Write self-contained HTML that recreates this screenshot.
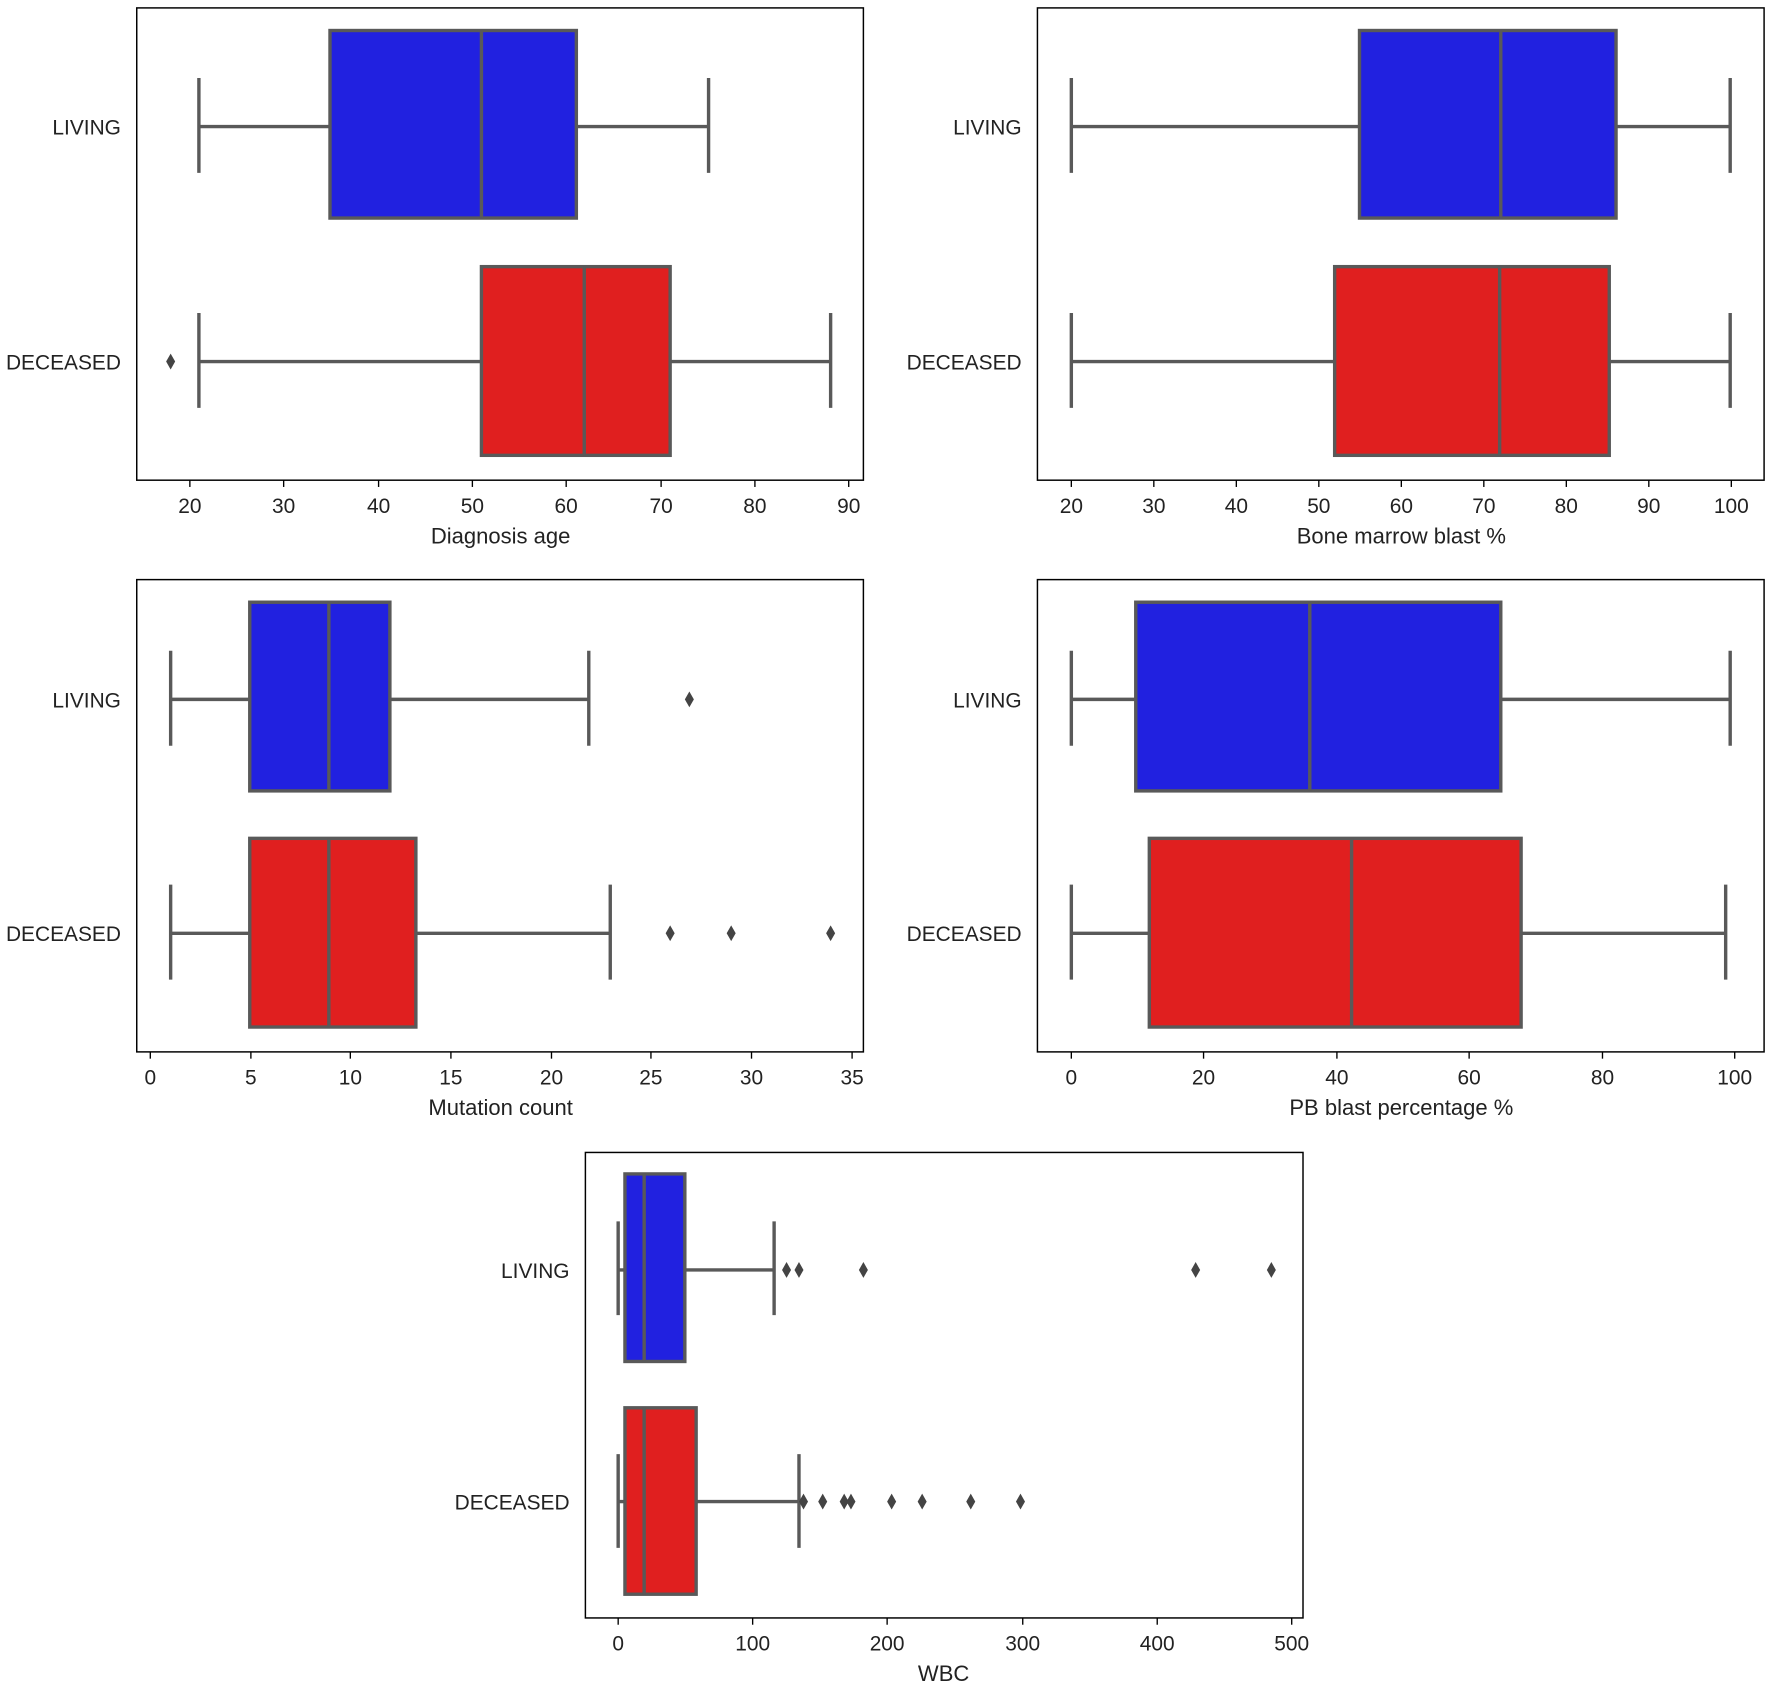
<!DOCTYPE html>
<html><head><meta charset="utf-8"><style>html,body{margin:0;padding:0;background:#fff}svg{display:block}</style></head>
<body>
<svg width="1772" height="1688" viewBox="0 0 1568 1494" preserveAspectRatio="none" xmlns="http://www.w3.org/2000/svg" font-family="'Liberation Sans','DejaVu Sans',sans-serif" font-size="18.5" fill="#222">
<defs>
<style>.ln{stroke:#595959;stroke-width:3;fill:none}.bx{stroke:#595959;stroke-width:3}.ax{fill:none;stroke:#000;stroke-width:1.3}.tk{stroke:#000;stroke-width:1.2}</style>
</defs>

<!-- Panel 1 -->
<rect class="ax" x="121" y="7" width="643" height="418"/>
<text x="107" y="119" text-anchor="end">LIVING</text>
<text x="107" y="327" text-anchor="end">DECEASED</text>
<line class="ln" x1="176" y1="112" x2="292" y2="112"/><line class="ln" x1="510" y1="112" x2="627" y2="112"/>
<line class="ln" x1="176" y1="69" x2="176" y2="153"/><line class="ln" x1="627" y1="69" x2="627" y2="153"/>
<rect class="bx" x="292" y="27" width="218" height="166" fill="#2121e0"/><line class="ln" x1="426" y1="27" x2="426" y2="193"/>
<line class="ln" x1="176" y1="320" x2="426" y2="320"/><line class="ln" x1="593" y1="320" x2="735" y2="320"/>
<line class="ln" x1="176" y1="277" x2="176" y2="361"/><line class="ln" x1="735" y1="277" x2="735" y2="361"/>
<rect class="bx" x="426" y="236" width="167" height="167" fill="#e01f1f"/><line class="ln" x1="517" y1="236" x2="517" y2="403"/>
<path d="M151 313 L155 320 L151 327 L147 320Z" fill="#444"/>
<g class="tk"><line x1="168" y1="425" x2="168" y2="431"/><line x1="251" y1="425" x2="251" y2="431"/><line x1="335" y1="425" x2="335" y2="431"/><line x1="418" y1="425" x2="418" y2="431"/><line x1="501" y1="425" x2="501" y2="431"/><line x1="585" y1="425" x2="585" y2="431"/><line x1="668" y1="425" x2="668" y2="431"/><line x1="751" y1="425" x2="751" y2="431"/></g>
<g text-anchor="middle"><text x="168" y="454">20</text><text x="251" y="454">30</text><text x="335" y="454">40</text><text x="418" y="454">50</text><text x="501" y="454">60</text><text x="585" y="454">70</text><text x="668" y="454">80</text><text x="751" y="454">90</text>
<text x="443" y="481" font-size="19.5">Diagnosis age</text></g>

<!-- Panel 2 -->
<rect class="ax" x="918" y="7" width="643" height="418"/>
<text x="904" y="119" text-anchor="end">LIVING</text>
<text x="904" y="327" text-anchor="end">DECEASED</text>
<line class="ln" x1="948" y1="112" x2="1203" y2="112"/><line class="ln" x1="1430" y1="112" x2="1531" y2="112"/>
<line class="ln" x1="948" y1="69" x2="948" y2="153"/><line class="ln" x1="1531" y1="69" x2="1531" y2="153"/>
<rect class="bx" x="1203" y="27" width="227" height="166" fill="#2121e0"/><line class="ln" x1="1328" y1="27" x2="1328" y2="193"/>
<line class="ln" x1="948" y1="320" x2="1181" y2="320"/><line class="ln" x1="1424" y1="320" x2="1531" y2="320"/>
<line class="ln" x1="948" y1="277" x2="948" y2="361"/><line class="ln" x1="1531" y1="277" x2="1531" y2="361"/>
<rect class="bx" x="1181" y="236" width="243" height="167" fill="#e01f1f"/><line class="ln" x1="1327" y1="236" x2="1327" y2="403"/>
<g class="tk"><line x1="948" y1="425" x2="948" y2="431"/><line x1="1021" y1="425" x2="1021" y2="431"/><line x1="1094" y1="425" x2="1094" y2="431"/><line x1="1167" y1="425" x2="1167" y2="431"/><line x1="1240" y1="425" x2="1240" y2="431"/><line x1="1313" y1="425" x2="1313" y2="431"/><line x1="1386" y1="425" x2="1386" y2="431"/><line x1="1459" y1="425" x2="1459" y2="431"/><line x1="1532" y1="425" x2="1532" y2="431"/></g>
<g text-anchor="middle"><text x="948" y="454">20</text><text x="1021" y="454">30</text><text x="1094" y="454">40</text><text x="1167" y="454">50</text><text x="1240" y="454">60</text><text x="1313" y="454">70</text><text x="1386" y="454">80</text><text x="1459" y="454">90</text><text x="1532" y="454">100</text>
<text x="1240" y="481" font-size="19.5">Bone marrow blast %</text></g>

<!-- Panel 3 -->
<rect class="ax" x="121" y="513" width="643" height="418"/>
<text x="107" y="626" text-anchor="end">LIVING</text>
<text x="107" y="833" text-anchor="end">DECEASED</text>
<line class="ln" x1="151" y1="619" x2="221" y2="619"/><line class="ln" x1="345" y1="619" x2="521" y2="619"/>
<line class="ln" x1="151" y1="576" x2="151" y2="660"/><line class="ln" x1="521" y1="576" x2="521" y2="660"/>
<rect class="bx" x="221" y="533" width="124" height="167" fill="#2121e0"/><line class="ln" x1="291" y1="533" x2="291" y2="700"/>
<path d="M610 612 L614 619 L610 626 L606 619Z" fill="#444"/>
<line class="ln" x1="151" y1="826" x2="221" y2="826"/><line class="ln" x1="368" y1="826" x2="540" y2="826"/>
<line class="ln" x1="151" y1="783" x2="151" y2="867"/><line class="ln" x1="540" y1="783" x2="540" y2="867"/>
<rect class="bx" x="221" y="742" width="147" height="167" fill="#e01f1f"/><line class="ln" x1="291" y1="742" x2="291" y2="909"/>
<path d="M593 819 L597 826 L593 833 L589 826Z M647 819 L651 826 L647 833 L643 826Z M735 819 L739 826 L735 833 L731 826Z" fill="#444"/>
<g class="tk"><line x1="133" y1="931" x2="133" y2="937"/><line x1="222" y1="931" x2="222" y2="937"/><line x1="310" y1="931" x2="310" y2="937"/><line x1="399" y1="931" x2="399" y2="937"/><line x1="488" y1="931" x2="488" y2="937"/><line x1="576" y1="931" x2="576" y2="937"/><line x1="665" y1="931" x2="665" y2="937"/><line x1="754" y1="931" x2="754" y2="937"/></g>
<g text-anchor="middle"><text x="133" y="960">0</text><text x="222" y="960">5</text><text x="310" y="960">10</text><text x="399" y="960">15</text><text x="488" y="960">20</text><text x="576" y="960">25</text><text x="665" y="960">30</text><text x="754" y="960">35</text>
<text x="443" y="987" font-size="19.5">Mutation count</text></g>

<!-- Panel 4 -->
<rect class="ax" x="918" y="513" width="643" height="418"/>
<text x="904" y="626" text-anchor="end">LIVING</text>
<text x="904" y="833" text-anchor="end">DECEASED</text>
<line class="ln" x1="948" y1="619" x2="1005" y2="619"/><line class="ln" x1="1328" y1="619" x2="1531" y2="619"/>
<line class="ln" x1="948" y1="576" x2="948" y2="660"/><line class="ln" x1="1531" y1="576" x2="1531" y2="660"/>
<rect class="bx" x="1005" y="533" width="323" height="167" fill="#2121e0"/><line class="ln" x1="1159" y1="533" x2="1159" y2="700"/>
<line class="ln" x1="948" y1="826" x2="1017" y2="826"/><line class="ln" x1="1346" y1="826" x2="1527" y2="826"/>
<line class="ln" x1="948" y1="783" x2="948" y2="867"/><line class="ln" x1="1527" y1="783" x2="1527" y2="867"/>
<rect class="bx" x="1017" y="742" width="329" height="167" fill="#e01f1f"/><line class="ln" x1="1196" y1="742" x2="1196" y2="909"/>
<g class="tk"><line x1="948" y1="931" x2="948" y2="937"/><line x1="1065" y1="931" x2="1065" y2="937"/><line x1="1183" y1="931" x2="1183" y2="937"/><line x1="1300" y1="931" x2="1300" y2="937"/><line x1="1418" y1="931" x2="1418" y2="937"/><line x1="1535" y1="931" x2="1535" y2="937"/></g>
<g text-anchor="middle"><text x="948" y="960">0</text><text x="1065" y="960">20</text><text x="1183" y="960">40</text><text x="1300" y="960">60</text><text x="1418" y="960">80</text><text x="1535" y="960">100</text>
<text x="1240" y="987" font-size="19.5">PB blast percentage %</text></g>

<!-- Panel 5 -->
<rect class="ax" x="518" y="1020" width="635" height="412"/>
<text x="504" y="1131" text-anchor="end">LIVING</text>
<text x="504" y="1336" text-anchor="end">DECEASED</text>
<line class="ln" x1="547" y1="1124" x2="553" y2="1124"/><line class="ln" x1="606" y1="1124" x2="685" y2="1124"/>
<line class="ln" x1="547" y1="1081" x2="547" y2="1164"/><line class="ln" x1="685" y1="1081" x2="685" y2="1164"/>
<rect class="bx" x="553" y="1039" width="53" height="166" fill="#2121e0"/><line class="ln" x1="570" y1="1039" x2="570" y2="1205"/>
<path d="M696 1117 L700 1124 L696 1131 L692 1124Z M707 1117 L711 1124 L707 1131 L703 1124Z M764 1117 L768 1124 L764 1131 L760 1124Z M1058 1117 L1062 1124 L1058 1131 L1054 1124Z M1125 1117 L1129 1124 L1125 1131 L1121 1124Z" fill="#444"/>
<line class="ln" x1="547" y1="1329" x2="553" y2="1329"/><line class="ln" x1="616" y1="1329" x2="707" y2="1329"/>
<line class="ln" x1="547" y1="1287" x2="547" y2="1370"/><line class="ln" x1="707" y1="1287" x2="707" y2="1370"/>
<rect class="bx" x="553" y="1246" width="63" height="165" fill="#e01f1f"/><line class="ln" x1="570" y1="1246" x2="570" y2="1411"/>
<path d="M711 1322 L715 1329 L711 1336 L707 1329Z M728 1322 L732 1329 L728 1336 L724 1329Z M747 1322 L751 1329 L747 1336 L743 1329Z M753 1322 L757 1329 L753 1336 L749 1329Z M789 1322 L793 1329 L789 1336 L785 1329Z M816 1322 L820 1329 L816 1336 L812 1329Z M859 1322 L863 1329 L859 1336 L855 1329Z M903 1322 L907 1329 L903 1336 L899 1329Z" fill="#444"/>
<g class="tk"><line x1="547" y1="1432" x2="547" y2="1438"/><line x1="666" y1="1432" x2="666" y2="1438"/><line x1="785" y1="1432" x2="785" y2="1438"/><line x1="905" y1="1432" x2="905" y2="1438"/><line x1="1024" y1="1432" x2="1024" y2="1438"/><line x1="1143" y1="1432" x2="1143" y2="1438"/></g>
<g text-anchor="middle"><text x="547" y="1461">0</text><text x="666" y="1461">100</text><text x="785" y="1461">200</text><text x="905" y="1461">300</text><text x="1024" y="1461">400</text><text x="1143" y="1461">500</text>
<text x="835" y="1488" font-size="19.5">WBC</text></g>
</svg>
</body></html>
